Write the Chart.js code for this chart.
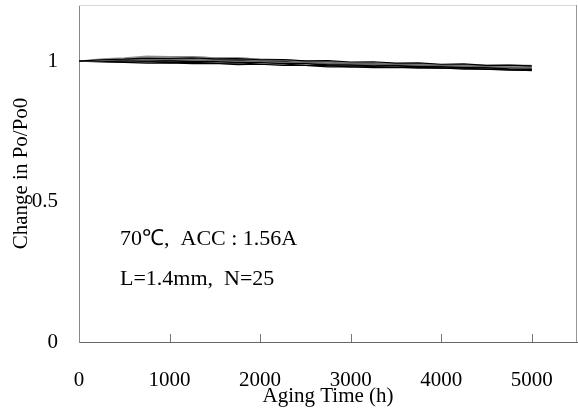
<!DOCTYPE html>
<html>
<head>
  <meta charset="UTF-8">
  <title>Aging Test</title>
  <script src="https://cdn.jsdelivr.net/npm/chart.js"></script>
  <style>
    body { margin: 0; background: white; }
    #wrap { width: 578px; height: 412px; }
  </style>
</head>
<body>
<div id="wrap"><canvas id="agingChart" width="578" height="412"></canvas></div>

<script>
  // aging time (h)
  const hours = [0, 250, 500, 750, 1000, 1250, 1500, 1750, 2000, 2250, 2500,
                 2750, 3000, 3250, 3500, 3750, 4000, 4250, 4500, 4750, 5000];

  // Po/Po0 for several devices
  const dev1  = [1.000,1.005,1.007,1.011,1.010,1.012,1.008,1.009,1.005,1.006,1.001,1.002,0.997,0.998,0.993,0.994,0.989,0.990,0.985,0.986,0.983];
  const dev2  = [1.000,1.002,1.005,1.004,1.006,1.003,1.003,0.999,0.999,0.996,0.996,0.992,0.991,0.988,0.989,0.985,0.985,0.981,0.981,0.977,0.976];
  const dev3  = [1.000,0.997,0.996,0.993,0.994,0.991,0.992,0.988,0.989,0.985,0.985,0.980,0.980,0.977,0.978,0.975,0.976,0.972,0.972,0.968,0.967];
  const dev4  = [1.000,1.006,1.009,1.015,1.015,1.016,1.012,1.012,1.007,1.006,1.000,0.999,0.995,0.995,0.991,0.991,0.987,0.988,0.985,0.986,0.985];
  const dev5  = [1.000,1.001,1.003,1.001,1.002,0.999,1.000,0.997,0.997,0.992,0.991,0.986,0.986,0.983,0.983,0.980,0.980,0.976,0.976,0.972,0.971];
  const dev6  = [1.000,1.004,1.005,1.009,1.008,1.009,1.006,1.007,1.004,1.004,0.999,0.997,0.992,0.993,0.990,0.991,0.987,0.987,0.984,0.984,0.981];
  const dev7  = [1.000,0.999,0.997,0.998,0.995,0.996,0.993,0.994,0.990,0.990,0.985,0.984,0.980,0.981,0.978,0.979,0.975,0.975,0.971,0.970,0.966];
  const dev8  = [1.000,1.008,1.012,1.018,1.016,1.016,1.012,1.012,1.007,1.005,0.999,0.998,0.993,0.993,0.989,0.989,0.985,0.985,0.981,0.981,0.978];
  const dev9  = [1.000,1.003,1.002,1.005,1.003,1.004,1.002,1.003,0.999,0.999,0.994,0.992,0.987,0.988,0.985,0.985,0.981,0.981,0.977,0.977,0.974];
  const dev10 = [1.000,1.000,1.002,1.000,1.001,0.998,0.999,0.996,0.996,0.992,0.992,0.987,0.987,0.984,0.984,0.981,0.981,0.977,0.977,0.973,0.972];

  const devices = [dev1, dev2, dev3, dev4, dev5, dev6, dev7, dev8, dev9, dev10];
  const lineColors = ['#000', '#666', '#000', '#888', '#000', '#555', '#000', '#999', '#222', '#000'];

  const xTicks = [0, 1000, 2000, 3000, 4000, 5000];
  const yTicks = [0, 0.5, 1];

  const serif = '"Liberation Serif", "Times New Roman", serif';

  // small inward tick marks on the x axis, plus the gray frame and the note
  const extras = {
    id: 'extras',
    afterDraw(chart) {
      const ctx = chart.ctx;
      const area = chart.chartArea;
      const xs = chart.scales.x;
      ctx.save();
      ctx.strokeStyle = '#777';
      ctx.lineWidth = 1;
      xTicks.forEach(v => {
        if (v === 0) return;
        const px = Math.round(xs.getPixelForValue(v)) + 0.5;
        ctx.beginPath();
        ctx.moveTo(px, area.bottom);
        ctx.lineTo(px, area.bottom - 8);
        ctx.stroke();
      });
      ctx.strokeStyle = '#d8d8d8';
      ctx.beginPath();
      ctx.moveTo(area.left, area.top + 0.5);
      ctx.lineTo(area.right, area.top + 0.5);
      ctx.stroke();
      ctx.strokeStyle = '#999';
      ctx.beginPath();
      ctx.moveTo(area.right - 0.5, area.top);
      ctx.lineTo(area.right - 0.5, area.bottom);
      ctx.stroke();

      ctx.fillStyle = '#000';
      ctx.font = '22px ' + serif;
      ctx.textBaseline = 'alphabetic';
      ctx.fillText('70\u2103,  ACC : 1.56A', 120, 245);
      ctx.fillText('L=1.4mm,  N=25', 120, 285);
      ctx.restore();
    }
  };

  new Chart(document.getElementById('agingChart').getContext('2d'), {
    type: 'line',
    data: {
      datasets: devices.map((d, i) => ({
        data: hours.map((h, j) => ({ x: h, y: d[j] })),
        borderColor: lineColors[i],
        borderWidth: 1.2,
        pointRadius: 0,
        tension: 0,
        fill: false
      }))
    },
    options: {
      responsive: false,
      animation: false,
      layout: { padding: { top: 5, right: 1, left: 0, bottom: 0 } },
      plugins: {
        legend: { display: false },
        tooltip: { enabled: false }
      },
      scales: {
        x: {
          type: 'linear',
          min: 0,
          max: 5500,
          grid: { display: false, drawTicks: false },
          border: { display: true, color: '#666', width: 1 },
          afterBuildTicks: s => { s.ticks = xTicks.map(v => ({ value: v })); },
          afterFit: s => { s.height = 70; s.paddingLeft = 0; s.paddingRight = 0; },
          ticks: {
            color: '#000',
            padding: 26,
            maxRotation: 0,
            callback: v => String(v),
            font: { family: serif, size: 21 }
          },
          title: {
            display: true,
            text: 'Aging Time (h)',
            color: '#000',
            padding: { top: 0, bottom: 3 },
            font: { family: serif, size: 21 }
          }
        },
        y: {
          min: 0,
          max: 1.2,
          grid: { display: false, drawTicks: false },
          border: { display: true, color: '#888', width: 1 },
          afterBuildTicks: s => { s.ticks = yTicks.map(v => ({ value: v })); },
          afterFit: s => { s.width = 79; s.paddingTop = 0; s.paddingBottom = 0; },
          ticks: {
            color: '#000',
            padding: 21,
            callback: v => String(v),
            font: { family: serif, size: 21 }
          },
          title: {
            display: true,
            text: 'Change in Po/Po0',
            color: '#000',
            padding: { top: 9, bottom: 0 },
            font: { family: serif, size: 21 }
          }
        }
      }
    },
    plugins: [extras]
  });
</script>
</body>
</html>
